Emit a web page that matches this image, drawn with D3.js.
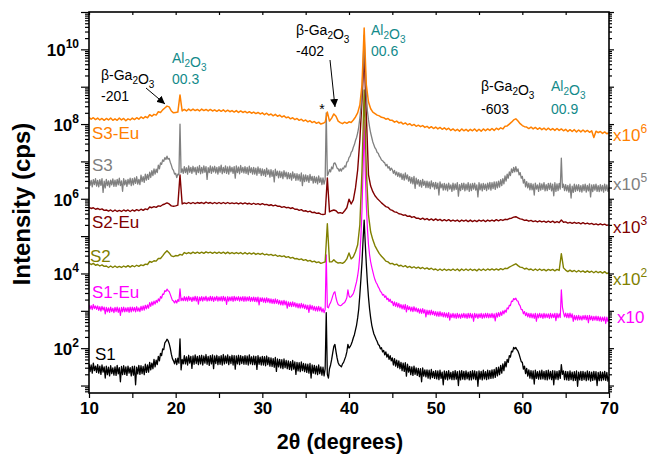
<!DOCTYPE html>
<html>
<head>
<meta charset="utf-8">
<script src="https://cdn.jsdelivr.net/npm/d3@7"></script>
<style>
  body { margin: 0; background: #fff; }
  svg { font-family: "Liberation Sans", Arial, sans-serif; }
</style>
</head>
<body>
<div id="chart"></div>
<script>
// All scans run 10..70 deg 2theta on an even grid; values are log10(intensity, cps)
// Noisy scans (S1, S1-Eu, S3): 8 values per degree, others: 4.

const s1 = [
  1.58,1.37,1.55,1.33,1.60,1.40,1.52,1.35, 1.56,1.33,1.52,1.30,1.55,1.36,1.50,1.20,
  1.52,1.29,1.49,1.26,1.53,1.32,1.47,1.28, 1.50,1.27,1.54,1.31,1.48,1.10,1.51,1.29,
  1.53,1.30,1.50,1.27,1.52,1.33,1.48,1.26, 1.51,1.28,1.52,1.02,1.49,1.31,1.54,1.30,
  1.53,1.32,1.51,1.29,1.57,1.35,1.55,1.36, 1.62,1.42,1.60,1.45,1.70,1.50,1.68,1.56,
  1.78,1.66,1.86,1.80,1.98,1.96,2.14,2.18, 2.24,2.20,2.12,2.00,1.84,1.72,1.66,1.58,
  1.72,1.56,1.73,1.60,2.25,1.42,1.70,1.58, 1.80,1.58,1.77,1.55,1.81,1.60,1.78,1.46,
  1.79,1.57,1.82,1.59,1.78,1.56,1.80,1.58, 1.81,1.55,1.79,1.60,1.83,1.57,1.78,1.54,
  1.80,1.58,1.82,1.45,1.79,1.59,1.81,1.56, 1.78,1.57,1.80,1.55,1.83,1.58,1.79,1.60,
  1.82,1.56,1.78,1.59,1.81,1.55,1.80,1.44, 1.79,1.58,1.81,1.56,1.80,1.59,1.78,1.57,
  1.80,1.57,1.79,1.55,1.82,1.58,1.77,1.56, 1.79,1.56,1.78,1.43,1.80,1.57,1.76,1.55,
  1.78,1.55,1.77,1.53,1.79,1.56,1.75,1.52, 1.74,1.51,1.72,1.49,1.75,1.38,1.71,1.50,
  1.70,1.47,1.69,1.45,1.71,1.48,1.67,1.45, 1.66,1.43,1.64,1.41,1.67,1.44,1.63,1.30,
  1.62,1.39,1.61,1.37,1.63,1.40,1.59,1.37, 1.58,1.35,1.57,1.33,1.59,1.20,1.55,1.33,
  1.54,1.31,1.52,1.29,1.55,1.32,1.50,1.28, 1.49,1.26,1.45,2.95,1.30,1.20,1.45,1.55,
  1.70,1.88,2.05,2.10,1.91,1.74,1.61,1.55, 1.53,1.50,1.58,1.62,1.70,1.78,1.90,2.10,
  2.00,2.04,2.10,2.18,2.28,2.36,2.49,2.62, 2.81,3.05,3.43,3.85,4.31,4.90,5.43,4.80,
  4.24,3.75,3.36,3.05,2.81,2.62,2.49,2.38, 2.31,2.24,2.18,2.10,2.07,1.98,2.01,1.90,
  1.94,1.82,1.90,1.76,1.84,1.70,1.80,1.66, 1.74,1.55,1.72,1.52,1.68,1.48,1.66,1.45,
  1.62,1.40,1.60,1.38,1.61,1.25,1.57,1.36, 1.51,1.29,1.50,1.27,1.52,1.30,1.47,1.27,
  1.46,1.24,1.45,1.10,1.47,1.25,1.42,1.23, 1.42,1.20,1.41,1.18,1.43,1.21,1.38,1.19,
  1.40,1.18,1.39,1.16,1.41,1.19,1.36,1.02, 1.39,1.17,1.38,1.15,1.40,1.18,1.35,1.16,
  1.38,1.16,1.40,1.17,1.37,1.00,1.39,1.15, 1.40,1.17,1.38,1.16,1.39,1.18,1.36,1.15,
  1.38,1.15,1.40,1.18,1.39,1.16,1.37,0.98, 1.39,1.17,1.38,1.15,1.41,1.18,1.37,1.16,
  1.41,1.18,1.40,1.19,1.42,1.20,1.43,1.22, 1.48,1.26,1.49,1.29,1.54,1.33,1.58,1.40,
  1.64,1.50,1.70,1.62,1.80,1.76,1.92,1.90, 2.02,1.98,2.02,1.96,1.92,1.84,1.74,1.64,
  1.62,1.44,1.52,1.32,1.46,1.25,1.42,1.20, 1.40,1.18,1.39,1.04,1.41,1.19,1.37,1.17,
  1.39,1.17,1.41,1.18,1.38,1.16,1.40,1.15, 1.41,1.18,1.38,1.16,1.40,1.02,1.39,1.17,
  1.38,1.16,1.40,1.19,1.56,1.30,1.39,1.16, 1.38,1.15,1.37,1.14,1.39,1.16,1.36,1.13,
  1.37,1.14,1.39,0.98,1.36,1.15,1.38,1.14, 1.38,1.16,1.36,1.13,1.39,1.15,1.37,1.12,
  1.36,1.14,1.38,1.15,1.37,1.00,1.35,1.13, 1.37,1.13,1.36,1.15,1.38,1.14,1.35,1.12,
  1.24
];
const s1Eu = [
  3.16,3.05,3.14,3.03,3.17,3.06,3.13,3.04, 3.13,3.01,3.11,2.99,3.12,3.02,3.10,2.92,
  3.09,2.97,3.08,2.96,3.10,2.98,3.07,2.95, 3.09,2.98,3.10,2.96,3.08,2.88,3.09,2.97,
  3.10,2.97,3.08,2.98,3.09,2.96,3.10,2.97, 3.10,2.99,3.09,2.97,3.11,2.99,3.08,2.98,
  3.12,3.01,3.13,3.02,3.15,3.05,3.16,3.07, 3.22,3.12,3.24,3.15,3.26,3.18,3.28,3.22,
  3.32,3.26,3.38,3.34,3.45,3.44,3.54,3.52, 3.58,3.54,3.52,3.44,3.36,3.28,3.26,3.21,
  3.28,3.21,3.30,3.25,3.59,3.27,3.34,3.27, 3.38,3.27,3.37,3.26,3.39,3.28,3.36,3.25,
  3.37,3.27,3.39,3.26,3.38,3.18,3.37,3.27, 3.38,3.26,3.37,3.28,3.39,3.26,3.36,3.27,
  3.39,3.27,3.38,3.25,3.37,3.28,3.39,3.26, 3.37,3.27,3.38,3.26,3.39,3.27,3.37,3.17,
  3.38,3.26,3.37,3.27,3.38,3.25,3.39,3.27, 3.37,3.28,3.38,3.26,3.37,3.27,3.38,3.25,
  3.38,3.26,3.37,3.27,3.38,3.25,3.36,3.26, 3.37,3.25,3.36,3.24,3.37,3.16,3.35,3.25,
  3.35,3.23,3.34,3.22,3.35,3.23,3.33,3.21, 3.32,3.20,3.31,3.19,3.32,3.20,3.30,3.18,
  3.28,3.16,3.27,3.15,3.28,3.16,3.26,3.07, 3.24,3.12,3.23,3.11,3.24,3.12,3.22,3.10,
  3.20,3.08,3.19,3.07,3.20,3.08,3.18,3.06, 3.16,3.04,3.15,2.96,3.16,3.04,3.14,3.02,
  3.12,3.00,3.11,2.99,3.12,3.00,3.10,2.97, 3.06,2.95,3.04,4.50,3.10,3.08,3.17,3.22,
  3.30,3.40,3.48,3.51,3.35,3.24,3.17,3.15, 3.14,3.15,3.18,3.20,3.22,3.28,3.35,3.56,
  3.40,3.36,3.38,3.42,3.46,3.55,3.67,3.78, 3.94,4.15,4.50,5.00,5.70,6.80,8.11,6.70,
  5.83,5.20,4.77,4.50,4.31,4.17,4.05,3.93, 3.83,3.76,3.71,3.64,3.59,3.52,3.49,3.42,
  3.44,3.36,3.40,3.30,3.34,3.25,3.31,3.22, 3.25,3.14,3.24,3.12,3.22,3.10,3.20,3.08,
  3.17,3.05,3.16,3.04,3.17,2.97,3.14,3.03, 3.11,2.99,3.10,2.98,3.11,2.99,3.08,2.97,
  3.06,2.94,3.05,2.93,3.06,2.94,3.03,2.84, 3.02,2.90,3.01,2.89,3.02,2.90,2.99,2.88,
  2.98,2.86,2.97,2.85,2.98,2.86,2.95,2.84, 2.95,2.83,2.94,2.82,2.95,2.75,2.92,2.82,
  2.93,2.81,2.92,2.80,2.93,2.81,2.91,2.80, 2.92,2.82,2.93,2.81,2.92,2.80,2.93,2.81,
  2.93,2.81,2.92,2.72,2.93,2.82,2.92,2.80, 2.92,2.82,2.93,2.80,2.92,2.81,2.93,2.82,
  2.93,2.81,2.92,2.82,2.93,2.81,2.92,2.73, 2.94,2.83,2.95,2.85,2.97,2.88,3.00,2.92,
  3.02,2.96,3.08,3.05,3.15,3.14,3.26,3.25, 3.33,3.30,3.34,3.27,3.26,3.17,3.13,3.03,
  3.03,2.92,2.98,2.87,2.95,2.84,2.93,2.82, 2.93,2.81,2.92,2.80,2.93,2.72,2.92,2.81,
  2.93,2.82,2.92,2.80,2.93,2.81,2.92,2.82, 2.92,2.80,2.93,2.81,2.92,2.82,2.93,2.74,
  2.93,2.81,2.92,2.82,3.56,3.10,2.95,2.84, 2.94,2.82,2.93,2.81,2.94,2.82,2.92,2.72,
  2.88,2.76,2.87,2.75,2.88,2.76,2.86,2.75, 2.87,2.77,2.88,2.76,2.87,2.68,2.88,2.76,
  2.86,2.74,2.85,2.75,2.86,2.74,2.85,2.73, 2.84,2.72,2.83,2.73,2.84,2.66,2.83,2.72,
  2.76
];
const s2 = [
  4.28,4.24,4.27,4.22, 4.24,4.20,4.23,4.19, 4.20,4.16,4.20,4.16, 4.20,4.16,4.19,4.16, 4.20,4.17,4.21,4.17,
  4.21,4.18,4.22,4.19, 4.23,4.21,4.25,4.24, 4.32,4.30,4.34,4.33, 4.40,4.40,4.47,4.55, 4.61,4.55,4.47,4.45,
  4.48,4.47,4.51,4.49, 4.56,4.53,4.56,4.53, 4.57,4.54,4.57,4.54, 4.57,4.54,4.58,4.55, 4.57,4.54,4.57,4.54,
  4.57,4.54,4.57,4.53, 4.57,4.53,4.56,4.53, 4.56,4.53,4.56,4.52, 4.56,4.52,4.55,4.52, 4.55,4.51,4.54,4.51,
  4.54,4.50,4.52,4.49, 4.51,4.48,4.50,4.46, 4.48,4.45,4.47,4.43, 4.45,4.41,4.43,4.39, 4.40,4.37,4.39,4.35,
  4.37,4.33,4.35,4.31, 4.33,4.29,4.31,4.27, 4.29,4.31,5.33,4.31, 4.31,4.37,4.31,4.28, 4.29,4.27,4.31,4.39,
  4.55,4.39,4.45,4.58, 4.77,5.30,6.77,8.91, 6.77,5.56,5.11,4.90, 4.74,4.63,4.53,4.46, 4.40,4.33,4.31,4.26,
  4.27,4.23,4.25,4.20, 4.22,4.18,4.21,4.16, 4.19,4.15,4.18,4.14, 4.17,4.13,4.16,4.12, 4.15,4.11,4.14,4.10,
  4.12,4.08,4.12,4.08, 4.12,4.08,4.11,4.08, 4.12,4.08,4.12,4.07, 4.12,4.08,4.12,4.08, 4.12,4.08,4.11,4.07,
  4.12,4.08,4.12,4.08, 4.12,4.09,4.12,4.09, 4.12,4.09,4.13,4.10, 4.14,4.13,4.17,4.20, 4.23,4.26,4.21,4.17,
  4.16,4.12,4.14,4.10, 4.12,4.08,4.12,4.08, 4.12,4.08,4.11,4.07, 4.11,4.08,4.11,4.07, 4.11,4.08,4.53,4.15,
  4.09,4.05,4.09,4.05, 4.08,4.04,4.08,4.04, 4.07,4.03,4.07,4.03, 4.06,4.02,4.06,4.02, 4.05,4.01,4.05,4.00,
  4.02
];
const s2Eu = [
  5.77,5.74,5.76,5.72, 5.74,5.71,5.73,5.69, 5.70,5.67,5.70,5.66, 5.70,5.66,5.69,5.66, 5.70,5.67,5.70,5.66,
  5.70,5.67,5.71,5.68, 5.72,5.69,5.73,5.71, 5.78,5.76,5.79,5.77, 5.81,5.80,5.84,5.86, 5.89,5.86,5.81,5.80,
  5.81,5.83,6.64,5.86, 5.89,5.87,5.90,5.87, 5.90,5.87,5.90,5.88, 5.90,5.87,5.91,5.88, 5.90,5.87,5.90,5.87,
  5.90,5.87,5.90,5.87, 5.90,5.87,5.89,5.87, 5.89,5.86,5.89,5.86, 5.89,5.86,5.88,5.85, 5.88,5.85,5.87,5.84,
  5.87,5.84,5.85,5.82, 5.84,5.81,5.83,5.80, 5.80,5.77,5.79,5.76, 5.77,5.74,5.76,5.72, 5.72,5.69,5.71,5.67,
  5.68,5.65,5.67,5.63, 5.64,5.61,5.62,5.59, 5.58,5.59,6.56,5.65, 5.68,5.70,5.68,5.62, 5.63,5.61,5.68,5.76,
  5.99,5.86,5.97,6.29, 6.77,7.57,8.64,9.85, 8.24,6.64,6.34,6.19, 6.08,6.01,5.95,5.89, 5.84,5.79,5.77,5.71,
  5.69,5.65,5.64,5.60, 5.59,5.56,5.57,5.53, 5.54,5.50,5.52,5.48, 5.48,5.45,5.48,5.44, 5.47,5.43,5.46,5.42,
  5.46,5.42,5.45,5.41, 5.44,5.41,5.44,5.40, 5.43,5.40,5.43,5.39, 5.43,5.40,5.43,5.39, 5.43,5.39,5.42,5.39,
  5.43,5.40,5.43,5.39, 5.43,5.40,5.43,5.40, 5.44,5.41,5.44,5.42, 5.45,5.44,5.47,5.48, 5.51,5.52,5.49,5.46,
  5.45,5.42,5.43,5.40, 5.42,5.39,5.41,5.38, 5.41,5.38,5.40,5.37, 5.40,5.37,5.40,5.36, 5.39,5.36,5.43,5.37,
  5.38,5.35,5.37,5.34, 5.37,5.34,5.36,5.33, 5.36,5.33,5.35,5.32, 5.34,5.31,5.33,5.30, 5.33,5.30,5.32,5.29,
  5.30
];
const s3 = [
  6.53,6.36,6.49,6.32,6.51,6.38,6.54,6.34, 6.49,6.32,6.51,6.36,6.54,6.17,6.47,6.29,
  6.52,6.35,6.48,6.31,6.50,6.37,6.53,6.33, 6.50,6.33,6.52,6.37,6.55,6.35,6.48,6.20,
  6.54,6.37,6.50,6.33,6.52,6.39,6.55,6.35, 6.54,6.37,6.56,6.41,6.59,6.39,6.52,6.38,
  6.63,6.46,6.59,6.44,6.66,6.50,6.65,6.52, 6.71,6.57,6.75,6.62,6.80,6.66,6.79,6.70,
  6.90,6.80,6.96,6.92,7.04,7.00,7.10,7.05, 7.14,7.06,7.08,6.98,6.90,6.80,6.76,6.66,
  6.68,6.57,6.66,6.64,8.00,6.70,6.80,6.68, 6.86,6.70,6.83,6.66,6.88,6.71,6.84,6.68,
  6.87,6.72,6.84,6.65,6.85,6.70,6.89,6.67, 6.84,6.69,6.88,6.71,6.86,6.52,6.83,6.70,
  6.88,6.68,6.85,6.72,6.87,6.69,6.84,6.66, 6.86,6.71,6.90,6.67,6.84,6.70,6.88,6.68,
  6.85,6.66,6.87,6.72,6.84,6.68,6.86,6.55, 6.88,6.70,6.85,6.67,6.89,6.71,6.84,6.69,
  6.86,6.68,6.84,6.65,6.87,6.70,6.83,6.66, 6.84,6.66,6.82,6.63,6.85,6.68,6.81,6.62,
  6.80,6.63,6.78,6.60,6.82,6.65,6.77,6.58, 6.78,6.60,6.75,6.45,6.79,6.62,6.74,6.56,
  6.74,6.57,6.72,6.54,6.75,6.59,6.71,6.53, 6.70,6.54,6.68,6.50,6.72,6.55,6.67,6.49,
  6.67,6.50,6.65,6.47,6.69,6.35,6.64,6.46, 6.64,6.47,6.62,6.44,6.65,6.49,6.60,6.42,
  6.60,6.43,6.58,6.40,6.61,6.44,6.56,6.38, 6.56,6.39,6.52,8.30,6.62,6.68,6.78,6.72,
  6.85,6.80,6.95,6.96,6.90,6.82,6.80,6.74, 6.80,6.74,6.82,6.80,6.88,6.85,6.98,7.00,
  7.10,7.14,7.24,7.28,7.38,7.45,7.56,7.64, 7.76,7.92,8.16,8.45,8.91,9.55,10.38,9.50,
  8.78,8.35,8.11,7.92,7.76,7.64,7.52,7.44, 7.36,7.32,7.24,7.22,7.14,7.10,7.04,7.02,
  6.98,6.96,6.88,6.92,6.82,6.86,6.76,6.82, 6.78,6.68,6.76,6.64,6.72,6.60,6.70,6.58,
  6.68,6.52,6.66,6.50,6.69,6.53,6.64,6.47, 6.59,6.42,6.57,6.40,6.60,6.28,6.55,6.39,
  6.51,6.34,6.49,6.31,6.52,6.36,6.47,6.30, 6.47,6.30,6.45,6.27,6.48,6.32,6.43,6.26,
  6.44,6.27,6.42,6.10,6.45,6.29,6.40,6.23, 6.41,6.24,6.39,6.21,6.42,6.26,6.37,6.20,
  6.42,6.23,6.40,6.25,6.43,6.07,6.38,6.22, 6.41,6.25,6.42,6.21,6.39,6.24,6.43,6.20,
  6.40,6.22,6.41,6.26,6.42,6.23,6.37,6.05, 6.43,6.24,6.40,6.21,6.41,6.25,6.39,6.22,
  6.42,6.26,6.44,6.23,6.43,6.27,6.45,6.25, 6.45,6.29,6.47,6.31,6.51,6.35,6.54,6.40,
  6.61,6.47,6.66,6.55,6.72,6.62,6.80,6.70, 6.84,6.72,6.86,6.73,6.80,6.64,6.70,6.55,
  6.60,6.42,6.52,6.32,6.46,6.29,6.42,6.24, 6.41,6.24,6.39,6.10,6.42,6.26,6.37,6.20,
  6.42,6.23,6.40,6.25,6.43,6.21,6.38,6.22, 6.41,6.25,6.42,6.21,6.39,6.08,6.43,6.20,
  6.40,6.22,6.41,6.26,7.09,6.30,6.39,6.22, 6.38,6.21,6.36,6.18,6.39,6.02,6.34,6.17,
  6.39,6.20,6.37,6.22,6.38,6.19,6.35,6.18, 6.38,6.22,6.39,6.18,6.36,6.21,6.40,6.05,
  6.37,6.19,6.38,6.23,6.39,6.20,6.35,6.19, 6.38,6.21,6.36,6.18,6.39,6.22,6.37,6.20,
  6.30
];
const s3Eu = [
  8.18,8.13,8.17,8.12, 8.16,8.11,8.15,8.10, 8.15,8.11,8.16,8.10, 8.14,8.10,8.16,8.11, 8.15,8.09,8.14,8.11,
  8.16,8.12,8.17,8.13, 8.19,8.15,8.20,8.17, 8.25,8.21,8.26,8.24, 8.33,8.31,8.38,8.43, 8.48,8.46,8.35,8.30,
  8.31,8.32,8.78,8.35, 8.39,8.35,8.40,8.36, 8.40,8.36,8.39,8.35, 8.40,8.36,8.39,8.35, 8.39,8.35,8.38,8.34,
  8.38,8.34,8.38,8.33, 8.37,8.33,8.36,8.32, 8.36,8.31,8.35,8.31, 8.34,8.30,8.33,8.29, 8.32,8.28,8.31,8.27,
  8.30,8.25,8.29,8.24, 8.27,8.22,8.26,8.21, 8.24,8.19,8.22,8.17, 8.19,8.14,8.17,8.12, 8.15,8.10,8.13,8.08,
  8.11,8.06,8.09,8.04, 8.07,8.02,8.05,8.00, 8.02,8.05,8.32,8.08, 8.16,8.27,8.21,8.08, 8.04,8.01,8.05,8.02,
  8.06,8.04,8.11,8.19, 8.30,8.51,9.05,10.57, 9.05,8.59,8.41,8.32, 8.28,8.24,8.22,8.18, 8.17,8.13,8.15,8.10,
  8.10,8.05,8.08,8.03, 8.05,8.00,8.03,7.98, 8.01,7.96,7.99,7.94, 7.97,7.93,7.96,7.91, 7.94,7.89,7.93,7.88,
  7.92,7.87,7.91,7.86, 7.90,7.85,7.89,7.83, 7.87,7.82,7.86,7.81, 7.87,7.82,7.86,7.81, 7.86,7.82,7.87,7.81,
  7.86,7.81,7.87,7.82, 7.87,7.83,7.88,7.83, 7.89,7.85,7.90,7.87, 7.94,7.95,8.00,8.05, 8.11,8.14,8.08,8.01,
  7.96,7.93,7.92,7.88, 7.92,7.87,7.91,7.86, 7.90,7.85,7.89,7.84, 7.89,7.84,7.88,7.83, 7.88,7.83,7.87,7.82,
  7.86,7.80,7.85,7.80, 7.85,7.79,7.84,7.79, 7.84,7.79,7.83,7.78, 7.82,7.64,7.81,7.77, 7.80,7.75,7.79,7.74,
  7.77
];

const seriesNames = ["S1", "S1-Eu", "S2", "S2-Eu", "S3", "S3-Eu"];
const seriesColors = ["#000000", "#ff00ff", "#808000", "#800000", "#808080", "#ff8000"];
const seriesValues = [s1, s1Eu, s2, s2Eu, s3, s3Eu];
const scaleBase = ["", "x10", "x10", "x10", "x10", "x10"];
const scaleExp = ["", "", "2", "3", "5", "6"];

const yMajorLabels = [2, 4, 6, 8, 10];
const xTickValues = [10, 15, 20, 25, 30, 35, 40, 45, 50, 55, 60, 65, 70];

const width = 655, height = 457;
const plotLeft = 89, plotRight = 609, plotTop = 12, plotBottom = 393;
const teal = "#128a8a";
const strokeW = [1.3, 1.2, 1.4, 1.4, 1.3, 1.5];

const svg = d3.select("#chart").append("svg")
  .attr("width", width)
  .attr("height", height);

const x = d3.scaleLinear().domain([10, 70]).range([plotLeft, plotRight]);
const y = d3.scaleLog().domain([Math.pow(10, 0.8), 1e11]).range([plotBottom, plotTop]);

svg.append("clipPath").attr("id", "plotClip")
  .append("rect")
  .attr("x", plotLeft).attr("y", plotTop)
  .attr("width", plotRight - plotLeft).attr("height", plotBottom - plotTop);

/* Lines */
const line = d3.line()
  .x((d, i, arr) => x(10 + i * 60 / (arr.length - 1)))
  .y(d => y(Math.pow(10, d)));

const lines = svg.append("g").attr("clip-path", "url(#plotClip)");
seriesValues.forEach((vals, k) => {
  lines.append("path")
    .attr("d", line(vals))
    .attr("fill", "none")
    .attr("stroke", seriesColors[k])
    .attr("stroke-width", strokeW[k])
    .attr("stroke-linejoin", "round");
});

/* Axes */
const minorY = [];
for (let e = 0; e <= 10; e++) {
  for (let m = 2; m <= 9; m++) {
    const v = m * Math.pow(10, e);
    if (v >= Math.pow(10, 0.8) && v <= 1e11) minorY.push(v);
  }
}
const majorY = d3.range(1, 12).map(e => Math.pow(10, e));

svg.append("g")
  .attr("transform", `translate(${plotLeft},0)`)
  .call(d3.axisLeft(y).tickValues(minorY).tickSize(4).tickFormat(""))
  .call(g => g.select(".domain").remove());
svg.append("g")
  .attr("transform", `translate(${plotLeft},0)`)
  .call(d3.axisLeft(y).tickValues(majorY).tickSize(8).tickFormat(""))
  .call(g => g.select(".domain").remove());

svg.append("g")
  .attr("transform", `translate(${plotRight},0)`)
  .call(d3.axisRight(y).tickValues(minorY).tickSize(3).tickFormat(""))
  .call(g => g.select(".domain").remove());
svg.append("g")
  .attr("transform", `translate(${plotRight},0)`)
  .call(d3.axisRight(y).tickValues(majorY).tickSize(5).tickFormat(""))
  .call(g => g.select(".domain").remove());

const xAxis = svg.append("g")
  .attr("transform", `translate(0,${plotBottom})`)
  .call(d3.axisBottom(x).tickValues(xTickValues).tickSize(5).tickPadding(4)
    .tickFormat(d => d % 10 === 0 ? d : ""));
xAxis.select(".domain").remove();
xAxis.selectAll("text")
  .attr("font-size", 17).attr("font-weight", "bold")
  .attr("font-family", "Liberation Sans, Arial, sans-serif")
  .attr("fill", "#000");

svg.append("g")
  .attr("transform", `translate(0,${plotTop})`)
  .call(d3.axisBottom(x).tickValues(xTickValues).tickSize(3).tickFormat(""))
  .call(g => g.select(".domain").remove());

svg.selectAll(".tick line").attr("stroke", "#000").attr("stroke-width", 1.2);

svg.append("rect")
  .attr("x", plotLeft).attr("y", plotTop)
  .attr("width", plotRight - plotLeft).attr("height", plotBottom - plotTop)
  .attr("fill", "none").attr("stroke", "#000").attr("stroke-width", 1.6);

// y tick labels 10^n
yMajorLabels.forEach(e => {
  const t = svg.append("text")
    .attr("x", 79).attr("y", y(Math.pow(10, e)) + 7)
    .attr("text-anchor", "end")
    .attr("font-size", 17).attr("font-weight", "bold");
  t.append("tspan").text("10");
  t.append("tspan").attr("font-size", 12).attr("dy", -8).text(e);
});

/* Axis titles */
svg.append("text")
  .attr("transform", "translate(30,204) rotate(-90)")
  .attr("text-anchor", "middle")
  .attr("font-size", 24).attr("font-weight", "bold")
  .text("Intensity (cps)");

svg.append("text")
  .attr("x", 340).attr("y", 449)
  .attr("text-anchor", "middle")
  .attr("font-size", 21.5).attr("font-weight", "bold")
  .text("2θ (degrees)");

/* Series names (left) and multipliers (right) */
const nameLabelPos = [[95, 360], [92, 298], [90, 262], [92, 228], [92, 171], [92, 139]];
const factorLabelPos = [[617, 323], [617, 323], [613, 285], [613, 233], [613, 190], [613, 141]];
seriesNames.forEach((n, k) => {
  svg.append("text")
    .attr("x", nameLabelPos[k][0]).attr("y", nameLabelPos[k][1])
    .attr("font-size", 17).attr("fill", seriesColors[k])
    .text(n);
  if (!scaleBase[k]) return; // S1 unscaled
  const t = svg.append("text")
    .attr("x", factorLabelPos[k][0]).attr("y", factorLabelPos[k][1])
    .attr("font-size", 17).attr("fill", seriesColors[k]);
  t.append("tspan").text(scaleBase[k]);
  if (scaleExp[k]) t.append("tspan").attr("font-size", 12).attr("dy", -8).text(scaleExp[k]);
});

/* Peak annotations */
function formula(xp, yp, color, parts) {
  const t = svg.append("text").attr("x", xp).attr("y", yp)
    .attr("font-size", 14).attr("fill", color);
  parts.forEach(p => {
    if (p.sub) {
      t.append("tspan").attr("font-size", 10).attr("dy", 4).text(p.sub);
      t.append("tspan").attr("dy", -4).text("");
    } else {
      t.append("tspan").text(p.t);
    }
  });
}
const gaParts = [{ t: "β-Ga" }, { sub: "2" }, { t: "O" }, { sub: "3" }];
const alParts = [{ t: "Al" }, { sub: "2" }, { t: "O" }, { sub: "3" }];

formula(101, 80, "#000", gaParts);
svg.append("text").attr("x", 101).attr("y", 101).attr("font-size", 14).text("-201");
formula(172, 63, teal, alParts);
svg.append("text").attr("x", 172).attr("y", 84).attr("font-size", 14).attr("fill", teal).text("00.3");

formula(296, 35, "#000", gaParts);
svg.append("text").attr("x", 296).attr("y", 56).attr("font-size", 14).text("-402");
formula(371, 35, teal, alParts);
svg.append("text").attr("x", 371).attr("y", 56).attr("font-size", 14).attr("fill", teal).text("00.6");

formula(481, 91, "#000", gaParts);
svg.append("text").attr("x", 481).attr("y", 114).attr("font-size", 14).text("-603");
formula(551, 91, teal, alParts);
svg.append("text").attr("x", 551).attr("y", 114).attr("font-size", 14).attr("fill", teal).text("00.9");

svg.append("text").attr("x", 322).attr("y", 114).attr("text-anchor", "middle")
  .attr("font-size", 14).text("*");

svg.append("defs").append("marker")
  .attr("id", "arrowHead")
  .attr("viewBox", "0 0 10 10")
  .attr("refX", 10).attr("refY", 5)
  .attr("markerWidth", 8).attr("markerHeight", 8)
  .attr("orient", "auto")
  .attr("markerUnits", "userSpaceOnUse")
  .append("path").attr("d", "M0,0 L10,5 L0,10 z").attr("fill", "#000");

svg.append("line")
  .attr("x1", 146).attr("y1", 88).attr("x2", 165).attr("y2", 104)
  .attr("stroke", "#000").attr("stroke-width", 1)
  .attr("marker-end", "url(#arrowHead)");
svg.append("line")
  .attr("x1", 330).attr("y1", 60).attr("x2", 335).attr("y2", 107)
  .attr("stroke", "#000").attr("stroke-width", 1)
  .attr("marker-end", "url(#arrowHead)");
</script>
</body>
</html>
